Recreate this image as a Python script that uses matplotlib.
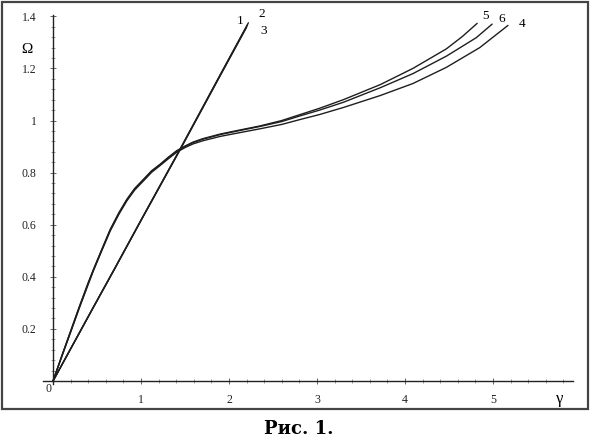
import matplotlib
matplotlib.use("Agg")
import matplotlib.pyplot as plt
import matplotlib.ticker as ticker
from matplotlib.patches import Rectangle

# ── Data ──────────────────────────────────────────────────────────────────────
# branches 1, 2, 3 – almost straight, practically on top of each other
g_1 = [0.0, 0.46, 0.7, 1.0, 1.44, 1.9, 2.20]
w_1 = [0.0, 0.284, 0.430, 0.616, 0.885, 1.172, 1.358]
g_2 = [0.0, 0.46, 0.7, 1.0, 1.44, 1.9, 2.22]
w_2 = [0.0, 0.285, 0.432, 0.618, 0.888, 1.176, 1.375]
g_3 = [0.0, 0.46, 0.7, 1.0, 1.44, 1.9, 2.21]
w_3 = [0.0, 0.283, 0.431, 0.617, 0.887, 1.174, 1.367]

# branches 4, 5, 6 – steep start, bend near the crossing, then slow rise
g_low = [0.0, 0.1, 0.2, 0.3, 0.4, 0.46, 0.55, 0.65, 0.75, 0.84, 0.93,
         1.03, 1.12, 1.22, 1.31, 1.405, 1.5, 1.59, 1.7, 1.9, 2.1, 2.35]
w_4_low = [0.0, 0.094, 0.187, 0.281, 0.371, 0.424, 0.497, 0.576, 0.641,
           0.692, 0.734, 0.769, 0.801, 0.828, 0.853, 0.878, 0.896, 0.910,
           0.922, 0.939, 0.952, 0.968]
w_5_low = [0.0, 0.097, 0.192, 0.287, 0.378, 0.429, 0.502, 0.582, 0.647,
           0.698, 0.740, 0.775, 0.807, 0.833, 0.859, 0.884, 0.902, 0.917,
           0.930, 0.948, 0.962, 0.979]
w_6_low = [0.0, 0.096, 0.190, 0.284, 0.375, 0.427, 0.500, 0.580, 0.645,
           0.696, 0.738, 0.773, 0.805, 0.831, 0.857, 0.882, 0.900, 0.915,
           0.928, 0.946, 0.960, 0.977]

g_4 = g_low + [2.6, 2.81, 3.03, 3.3, 3.72, 4.09, 4.47, 4.85, 5.17]
w_4 = w_4_low + [0.985, 1.004, 1.023, 1.050, 1.096, 1.142, 1.204, 1.280, 1.365]
g_5 = g_low + [2.6, 2.81, 3.03, 3.3, 3.72, 4.09, 4.47, 4.65, 4.82]
w_5 = w_5_low + [1.000, 1.023, 1.047, 1.080, 1.138, 1.200, 1.275, 1.322, 1.373]
g_6 = g_low + [2.6, 2.81, 3.03, 3.3, 3.72, 4.09, 4.47, 4.81, 4.99]
w_6 = w_6_low + [0.996, 1.018, 1.040, 1.070, 1.126, 1.180, 1.247, 1.318, 1.370]

x_ticks  = [1, 2, 3, 4, 5]
x_labels = ["1", "2", "3", "4", "5"]
y_ticks  = [0.2, 0.4, 0.6, 0.8, 1.0, 1.2, 1.4]
y_labels = ["0.2", "0.4", "0.6", "0.8", "1", "1.2", "1.4"]

curve_tags = [("1", 2.125, 1.381), ("2", 2.375, 1.408), ("3", 2.39, 1.342),
              ("5", 4.91, 1.400), ("6", 5.10, 1.388), ("4", 5.33, 1.369)]

# ── Style ─────────────────────────────────────────────────────────────────────
SERIF = "Liberation Serif"
C_LINE = "#1e1e1e"
C_AXIS = "#222222"

fig = plt.figure(figsize=(5.9, 4.42), dpi=100)
fig.patch.set_facecolor("white")

ax = fig.add_axes([43 / 590, 58 / 442, 530 / 590, 369 / 442])
ax.set_xlim(-0.114, 5.909)
ax.set_ylim(-0.0115, 1.405)

for g, w in [(g_1, w_1), (g_2, w_2), (g_3, w_3),
             (g_4, w_4), (g_5, w_5), (g_6, w_6)]:
    ax.plot(g, w, color=C_LINE, linewidth=1.0,
            solid_capstyle="round", solid_joinstyle="round")

# axes through the origin, Maple style
for s in ("top", "right"):
    ax.spines[s].set_visible(False)
ax.spines["left"].set_position(("data", 0))
ax.spines["bottom"].set_position(("data", 0))
for s in ("left", "bottom"):
    ax.spines[s].set_color(C_AXIS)
    ax.spines[s].set_linewidth(1.0)

ax.set_xticks(x_ticks)
ax.set_xticklabels(x_labels)
ax.set_yticks(y_ticks)
ax.set_yticklabels(y_labels)
ax.xaxis.set_minor_locator(ticker.MultipleLocator(0.2))
ax.yaxis.set_minor_locator(ticker.MultipleLocator(0.04))
ax.tick_params(which="major", direction="inout", length=4, width=0.7,
               color="#666666", labelsize=8.5, labelcolor="#222222")
ax.tick_params(which="minor", direction="inout", length=3, width=0.6,
               color="#888888")
ax.tick_params(axis="x", pad=7)
ax.tick_params(axis="y", pad=10)
for lbl in ax.get_xticklabels() + ax.get_yticklabels():
    lbl.set_fontfamily(SERIF)

ax.text(-0.057, -0.031, "0", fontsize=8.5, family=SERIF,
        ha="center", va="center", color="#222222", clip_on=False)
ax.text(-0.30, 1.273, "Ω", fontsize=11, family=SERIF,
        ha="center", va="center", clip_on=False)
ax.text(5.76, -0.069, "γ", fontsize=12, family=SERIF,
        ha="center", va="center", clip_on=False)

for tag, gx, wy in curve_tags:
    ax.text(gx, wy, tag, fontsize=9.5, family=SERIF,
            ha="center", va="center", clip_on=False)

# frame around the plot and caption
fig.patches.append(Rectangle((2 / 590, 33 / 442), 586 / 590, 407 / 442,
                             transform=fig.transFigure, fill=False,
                             edgecolor="#444444", linewidth=1.6))
fig.text(299 / 590, 1 - 429 / 442, "Рис. 1.", fontsize=13,
         family="DejaVu Serif", weight="bold", ha="center", va="center")

fig.savefig("out.png", dpi=100)
